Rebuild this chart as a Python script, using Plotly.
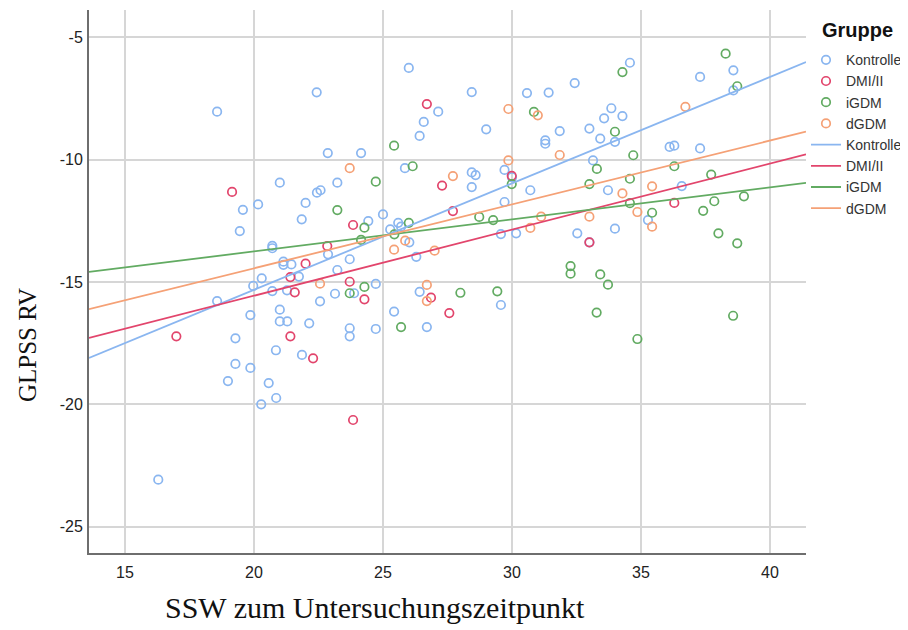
import plotly.graph_objects as go

groups = ["Kontrolle", "DMI/II", "iGDM", "dGDM"]
colors = ["#8ab6f0", "#e2456c", "#62ab62", "#f5a176"]

kontrolle_x = [18.57, 22.43, 22.86, 21.0, 23.23, 22.44, 22.58, 19.57, 20.16, 22.0, 21.85, 19.45, 20.71, 20.71,
               22.87, 21.14, 21.14, 21.45, 20.3, 19.97, 21.74, 23.23, 20.71, 21.28, 23.14, 18.57, 22.56, 19.86,
               21.0, 21.0, 21.29, 22.14, 19.28, 20.85, 21.86, 19.28, 19.86, 18.99, 20.57, 20.86, 20.28, 16.29,
               26.0, 28.44, 30.58, 31.42, 32.43, 27.14, 26.58, 26.42, 29.0, 31.85, 31.29, 31.29, 24.15, 25.85,
               28.44, 28.59, 28.44, 29.71, 30.0, 30.71, 24.43, 25.0, 29.71, 29.57, 30.16, 32.53, 25.28, 25.59,
               25.7, 26.02, 23.71, 26.29, 23.88, 24.72, 25.43, 23.71, 23.71, 24.72, 26.42, 26.7, 29.57,
               34.57, 38.58, 37.29, 38.58, 33.85, 33.57, 34.28, 33.0, 33.42, 33.99, 36.11, 36.29, 37.29, 33.14,
               33.72, 36.58, 35.27, 33.99, 33.0]
kontrolle_y = [-8.04, -7.25, -9.73, -10.94, -10.94, -11.35, -11.25, -12.05, -11.83, -11.77, -12.44, -12.92, -13.52, -13.62,
               -13.87, -14.17, -14.3, -14.28, -14.85, -15.16, -14.78, -14.51, -15.37, -15.34, -15.48, -15.78, -15.79, -16.35,
               -16.13, -16.61, -16.61, -16.69, -17.3, -17.79, -17.98, -18.35, -18.51, -19.05, -19.13, -19.74, -20.0, -23.08,
               -6.25, -7.24, -7.28, -7.26, -6.87, -8.04, -8.46, -9.03, -8.76, -8.83, -9.21, -9.35, -9.73, -10.35,
               -10.52, -10.63, -11.12, -10.42, -10.72, -11.25, -12.51, -12.24, -11.73, -13.04, -13.01, -13.01, -12.85, -12.58,
               -12.74, -13.38, -14.07, -13.97, -15.46, -15.08, -16.21, -16.89, -17.22, -16.92, -15.4, -16.84, -15.94,
               -6.04, -6.35, -6.62, -7.17, -7.9, -8.31, -8.22, -8.73, -9.14, -9.27, -9.48, -9.43, -9.54, -10.03,
               -11.25, -11.08, -12.47, -12.82, -13.38]

dmi_x = [19.15, 22.84, 22.0, 21.41, 21.58, 16.99, 21.41, 22.29, 26.7, 27.29, 29.99, 23.84, 27.71, 23.71,
         24.28, 26.86, 27.57, 23.84, 36.29, 33.0]
dmi_y = [-11.32, -13.53, -14.25, -14.8, -15.42, -17.22, -17.22, -18.12, -7.73, -11.06, -10.66, -12.67, -12.1, -14.99,
         -15.71, -15.64, -16.27, -20.64, -11.77, -13.38]

igdm_x = [23.23, 30.85, 25.43, 26.15, 24.72, 29.99, 24.28, 28.73, 29.27, 24.15, 26.0, 25.44, 23.71, 24.28,
          25.7, 28.0, 29.43, 32.27, 32.27, 38.28, 34.28, 38.73, 33.99, 34.7, 33.29, 36.29, 37.72, 33.0,
          34.57, 38.99, 37.84, 34.57, 37.41, 35.43, 38.0, 38.73, 33.42, 33.72, 33.28, 34.86, 38.57]
igdm_y = [-12.06, -8.05, -9.43, -10.27, -10.9, -11.0, -12.78, -12.34, -12.47, -13.28, -12.58, -13.05, -15.46, -15.2,
          -16.84, -15.44, -15.38, -14.35, -14.66, -5.67, -6.42, -7.0, -8.86, -9.82, -10.38, -10.27, -10.61, -11.0,
          -10.78, -11.5, -11.7, -11.78, -12.09, -12.17, -13.01, -13.42, -14.69, -15.11, -16.25, -17.33, -16.38]

dgdm_x = [22.56, 29.86, 31.0, 31.85, 23.71, 29.86, 27.71, 31.13, 30.71, 25.86, 25.43, 27.0, 26.7, 26.7,
          36.72, 34.28, 35.43, 34.86, 33.0, 35.43]
dgdm_y = [-15.07, -7.93, -8.19, -9.81, -10.35, -10.03, -10.67, -12.33, -12.79, -13.31, -13.68, -13.72, -15.12, -15.78,
          -7.84, -11.38, -11.09, -12.14, -12.33, -12.74]

# fitted regression lines (y = a + b*x)
fit_intercept = [-24.02, -20.96, -16.37, -19.66]
fit_slope = [0.435, 0.27, 0.131, 0.261]

x_ticks = [15, 20, 25, 30, 35, 40]
x_ticktext = ["15", "20", "25", "30", "35", "40"]
y_ticks = [-5, -10, -15, -20, -25]
y_ticktext = ["-5", "-10", "-15", "-20", "-25"]
x_range = [13.605, 41.395]
y_range = [-26.075, -3.884]

xs = [kontrolle_x, dmi_x, igdm_x, dgdm_x]
ys = [kontrolle_y, dmi_y, igdm_y, dgdm_y]

fig = go.Figure()
for g, c, x, y in zip(groups, colors, xs, ys):
    fig.add_trace(go.Scatter(
        x=x, y=y, mode="markers", name=g,
        marker=dict(symbol="circle-open", size=8.5, color=c, line=dict(width=1.7, color=c)),
    ))
for g, c, a, b in zip(groups, colors, fit_intercept, fit_slope):
    fig.add_trace(go.Scatter(
        x=x_range, y=[a + b * x_range[0], a + b * x_range[1]], mode="lines", name=g,
        line=dict(color=c, width=1.8),
    ))

axis_common = dict(
    showgrid=True, gridcolor="#d6d6d6", gridwidth=1.6,
    showline=True, linecolor="#6e6e6e", linewidth=2,
    zeroline=False, ticks="", automargin=False,
    tickfont=dict(family="Liberation Sans, Arial", size=16, color="#222222"),
)
fig.update_xaxes(range=x_range, tickvals=x_ticks, ticktext=x_ticktext, ticklabelstandoff=4, **axis_common)
fig.update_yaxes(range=y_range, tickvals=y_ticks, ticktext=y_ticktext, ticklabelstandoff=1, **axis_common)

fig.update_layout(
    width=900, height=622,
    margin=dict(l=81, r=102, t=2, b=77, autoexpand=False),
    plot_bgcolor="white", paper_bgcolor="white",
    showlegend=True,
    legend=dict(
        x=1.0, xanchor="left", y=0.937, yanchor="top",
        font=dict(family="Liberation Sans, Arial", size=14, color="#333333"),
        itemwidth=30, bgcolor="rgba(0,0,0,0)",
    ),
    annotations=[
        dict(text="<b>Gruppe</b>", xref="paper", yref="paper", x=1, y=1, xshift=14, yshift=-20,
             showarrow=False, xanchor="left", yanchor="middle",
             font=dict(family="Liberation Sans, Arial", size=20, color="#111111")),
        dict(text="SSW zum Untersuchungszeitpunkt", xref="paper", yref="paper", x=0.399, y=0,
             yshift=-54, showarrow=False, xanchor="center", yanchor="middle",
             font=dict(family="Liberation Serif, Times New Roman", size=30, color="#111111")),
        dict(text="GLPSS RV", xref="paper", yref="paper", x=0, y=0.383, xshift=-62,
             showarrow=False, xanchor="center", yanchor="middle", textangle=-90,
             font=dict(family="Liberation Serif, Times New Roman", size=25, color="#111111")),
    ],
)

fig.write_html("out.html")
